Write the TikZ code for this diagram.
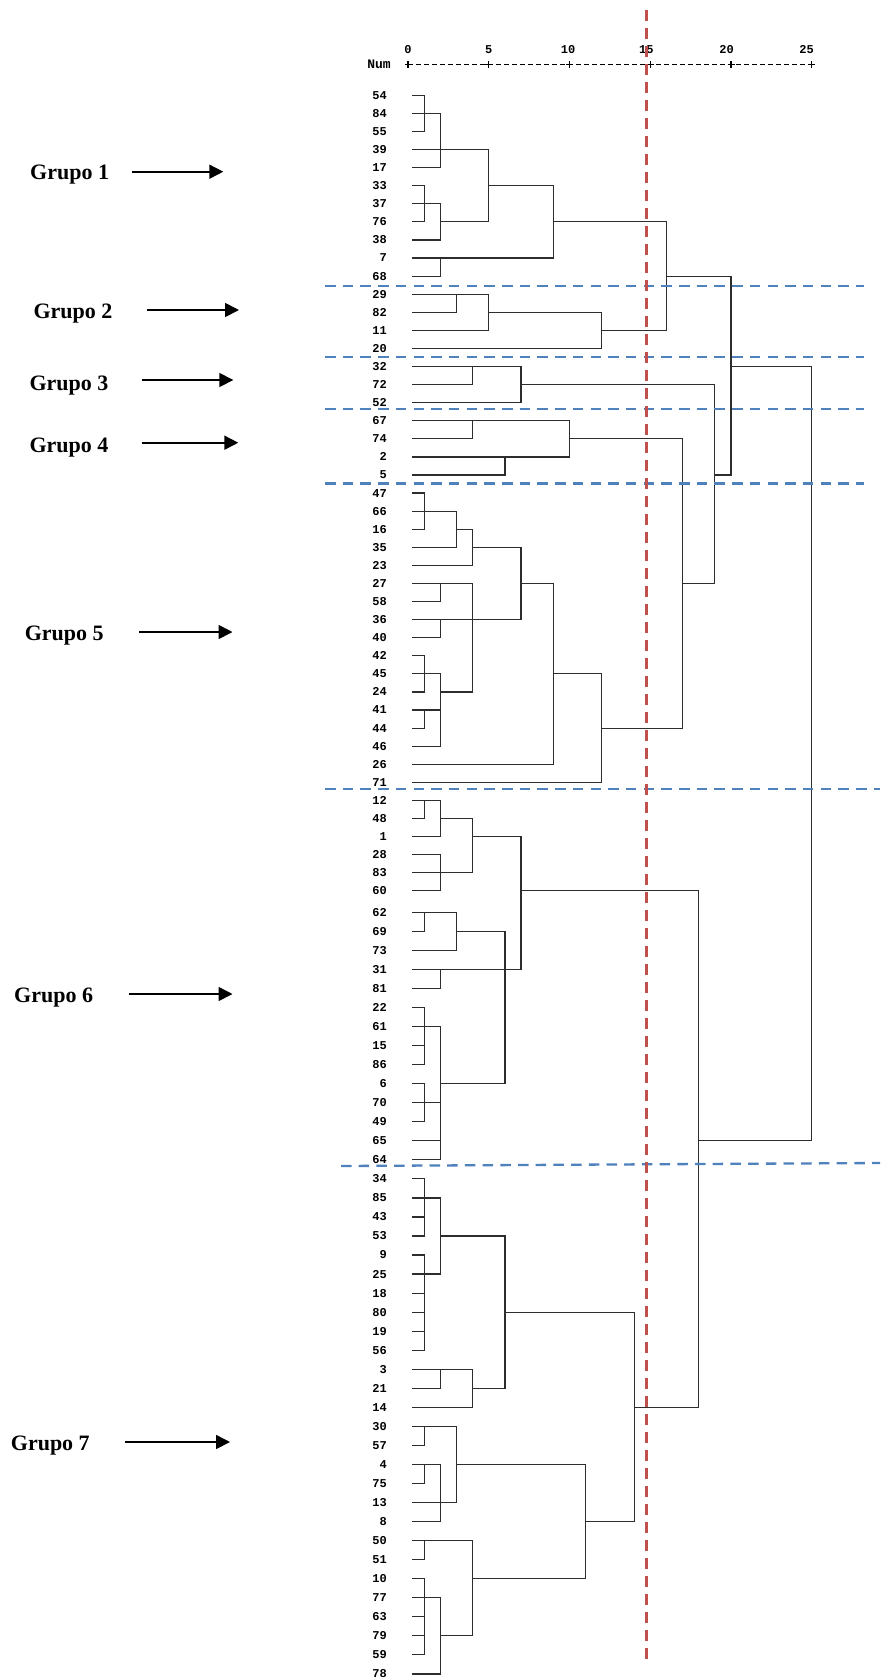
\documentclass[tikz,border=0pt]{standalone}
\usepackage{fontspec}
\usetikzlibrary{arrows.meta}
\newfontfamily\monof{Liberation Mono}
\newfontfamily\seriff{Liberation Serif}
\definecolor{cutblue}{RGB}{79,129,189}
\definecolor{cutred}{RGB}{192,80,77}
\definecolor{treeline}{RGB}{45,45,45}
\newcommand\Hseg[3]{\draw[tree] (r#1 -| #2) -- (r#1 -| #3);}
\newcommand\Vseg[3]{\draw[tree] (r#2 -| #1) -- (r#3 -| #1);}
\tikzset{
  tree/.style={draw=treeline, line width=1.2pt, line cap=rect},
  leafl/.style={font=\monof\bfseries\fontsize{12}{12}\selectfont, anchor=east, inner sep=0pt},
  ticklab/.style={font=\monof\bfseries\fontsize{12}{12}\selectfont, inner sep=0pt},
  grp/.style={font=\seriff\bfseries\fontsize{22}{22}\selectfont, anchor=base west, inner sep=0pt},
  garrow/.style={line width=1.7pt, -{Triangle[length=14pt,width=14pt]}},
  bluecut/.style={draw=cutblue, line width=2.3pt, dash pattern=on 10.5pt off 7.2pt},
  redcut/.style={draw=cutred, line width=2.6pt, dash pattern=on 11pt off 7pt},
  axisline/.style={draw=black, line width=0.9pt, dash pattern=on 4.5pt off 3.5pt},
  plus/.style={draw=black, line width=1.1pt}
}
\begin{document}
\begin{tikzpicture}[x=1pt,y=-1pt]
\useasboundingbox (0,0) rectangle (886,1679);
\fill[white] (0,0) rectangle (886,1679);

% x levels
\coordinate (ls) at (413,0);
\foreach \k in {0,...,25} {\coordinate (u\k) at ({408+16.15*\k},0);}

% axis
\node[ticklab, anchor=east, font=\monof\bfseries\fontsize{13}{13}\selectfont] (num) at (391,64.3) {Num};
\draw[axisline] (u0 |- num) -- (u25 |- num);
\foreach \k/\t/\lx in {0/0/408, 5/5/488.7, 10/10/568, 15/15/646.4, 20/20/726.5, 25/25/806.6} {
  \draw[plus] ([xshift=-3.5pt]u\k |- num) -- ([xshift=3.5pt]u\k |- num);
  \draw[plus] ([yshift=-3.5pt]u\k |- num) -- ([yshift=3.5pt]u\k |- num);
  \node[ticklab] (t\k) at (\lx,49.3) {\t};
}

% leaves, upper block
\foreach \n [count=\i from 0] in {54,84,55,39,17,33,37,76,38,7,68,29,82,11,20,32,72,52,67,74,2,5,47,66,16,35,23,27,58,36,40,42,45,24,41,44,46,26,71,12,48,1,28,83,60} {
  \pgfmathsetmacro\yy{95.3+18.08*\i}
  \coordinate (r\n) at (413,\yy);
  \node[leafl] (n\n) at (387,\yy) {\n};
}
% leaves, lower block
\foreach \n [count=\i from 0] in {62,69,73,31,81,22,61,15,86,6,70,49,65,64,34,85,43,53,9,25,18,80,19,56,3,21,14,30,57,4,75,13,8,50,51,10,77,63,79,59,78} {
  \pgfmathsetmacro\yy{912.3+19.04*\i}
  \coordinate (r\n) at (413,\yy);
  \node[leafl] (n\n) at (387,\yy) {\n};
}

% horizontal segments
\foreach \rw/\fa/\fb in {
54/ls/u1, 84/ls/u2, 55/ls/u1, 39/ls/u5, 17/ls/u2, 33/ls/u1, 33/u5/u9, 37/ls/u2, 76/ls/u1, 76/u2/u5, 76/u9/u16, 38/ls/u2, 7/ls/u9, 68/ls/u2, 68/u16/u20,
29/ls/u5, 82/ls/u3, 82/u5/u12, 11/ls/u5, 11/u12/u16, 20/ls/u12,
32/ls/u7, 32/u20/u25, 72/ls/u4, 72/u7/u19, 52/ls/u7,
67/ls/u10, 74/ls/u4, 74/u10/u17, 2/ls/u10, 5/ls/u6, 5/u19/u20,
47/ls/u1, 66/ls/u3, 16/ls/u1, 16/u3/u4, 35/ls/u3, 35/u4/u7, 23/ls/u4, 27/ls/u4, 27/u7/u9, 27/u17/u19, 58/ls/u2, 36/ls/u7, 40/ls/u2, 42/ls/u1, 45/ls/u2, 45/u9/u12, 24/ls/u1, 24/u2/u4, 41/ls/u2, 44/ls/u1, 44/u12/u17, 46/ls/u2, 26/ls/u9, 71/ls/u12,
12/ls/u2, 48/ls/u1, 48/u2/u4, 1/ls/u2, 1/u4/u7, 28/ls/u2, 83/ls/u4, 60/ls/u2, 60/u7/u18,
62/ls/u3, 69/ls/u1, 69/u3/u6, 73/ls/u3, 31/ls/u7, 81/ls/u2, 22/ls/u1, 61/ls/u2, 15/ls/u1, 86/ls/u1, 6/ls/u1, 6/u2/u6, 70/ls/u2, 49/ls/u1, 65/ls/u2, 65/u18/u25, 64/ls/u2,
34/ls/u1, 85/ls/u2, 43/ls/u1, 53/ls/u1, 53/u2/u6, 9/ls/u1, 25/ls/u2, 18/ls/u1, 80/ls/u1, 80/u6/u14, 19/ls/u1, 56/ls/u1, 3/ls/u4, 21/ls/u2, 21/u4/u6, 14/ls/u4, 14/u14/u18,
30/ls/u3, 57/ls/u1, 4/ls/u2, 4/u3/u11, 75/ls/u1, 13/ls/u3, 8/ls/u2, 8/u11/u14, 50/ls/u4, 51/ls/u1, 10/ls/u1, 10/u4/u11, 77/ls/u2, 63/ls/u1, 79/ls/u1, 79/u2/u4, 59/ls/u1, 78/ls/u2}
{\Hseg{\rw}{\fa}{\fb}}

% vertical segments
\foreach \xl/\fa/\fb in {
u1/54/55, u2/84/17, u1/33/76, u2/37/38, u5/39/76, u9/33/7, u2/7/68, u16/76/11, u20/68/5,
u3/29/82, u5/29/11, u12/82/20,
u4/32/72, u7/32/52, u25/32/65,
u4/67/74, u6/2/5, u10/67/2, u19/72/27, u17/74/44,
u1/47/16, u3/66/35, u4/16/23, u7/35/36, u2/27/58, u2/36/40, u1/42/24, u4/27/24, u1/41/44, u2/45/46, u9/27/26, u12/45/71,
u1/12/48, u2/12/1, u2/28/60, u4/48/83, u7/1/31, u18/60/14,
u1/62/69, u3/62/73, u2/31/81, u1/22/86, u1/6/49, u2/61/64, u6/69/6,
u1/34/53, u1/9/56, u2/85/25, u6/53/21, u2/3/21, u4/3/14, u14/80/8,
u1/30/57, u1/4/75, u2/4/8, u3/30/13, u11/4/10, u1/50/51, u1/10/59, u2/77/78, u4/50/79}
{\Vseg{\xl}{\fa}{\fb}}

% group cut lines
\coordinate (b1a) at (325,285.7);  \coordinate (b1b) at (863.5,285.7);
\coordinate (b2a) at (325,357);    \coordinate (b2b) at (863.5,357);
\coordinate (b3a) at (325,409);    \coordinate (b3b) at (863.5,409);
\coordinate (b4a) at (325,483.5);  \coordinate (b4b) at (863.5,483.5);
\coordinate (b5a) at (325,789);    \coordinate (b5b) at (880,789);
\coordinate (b6a) at (341,1166);   \coordinate (b6b) at (880,1163);
\foreach \k in {1,...,6} {\draw[bluecut] (b\k a) -- (b\k b);}

% cut level line
\coordinate (rtop) at (646.4,10);
\coordinate (rbot) at (646.4,1665);
\draw[redcut] (rtop) -- (rbot);

% group labels and arrows
\foreach \g/\tx/\ty/\ax/\bx/\ay in {
1/30/179.3/131.7/223.3/171.7,
2/33.3/318.3/146.7/239/310,
3/29.3/390/141.7/233.3/380,
4/29.3/452.3/141.7/238.3/442.7,
5/24.6/640/139/232.5/632,
6/14/1002/128.6/232.5/994,
7/10.7/1450/125/230/1442} {
  \node[grp] (g\g) at (\tx,\ty) {Grupo \g};
  \coordinate (ga\g) at (\ax,\ay);
  \coordinate (gb\g) at (\bx,\ay);
  \draw[garrow] (ga\g) -- (gb\g);
}
\end{tikzpicture}
\end{document}
